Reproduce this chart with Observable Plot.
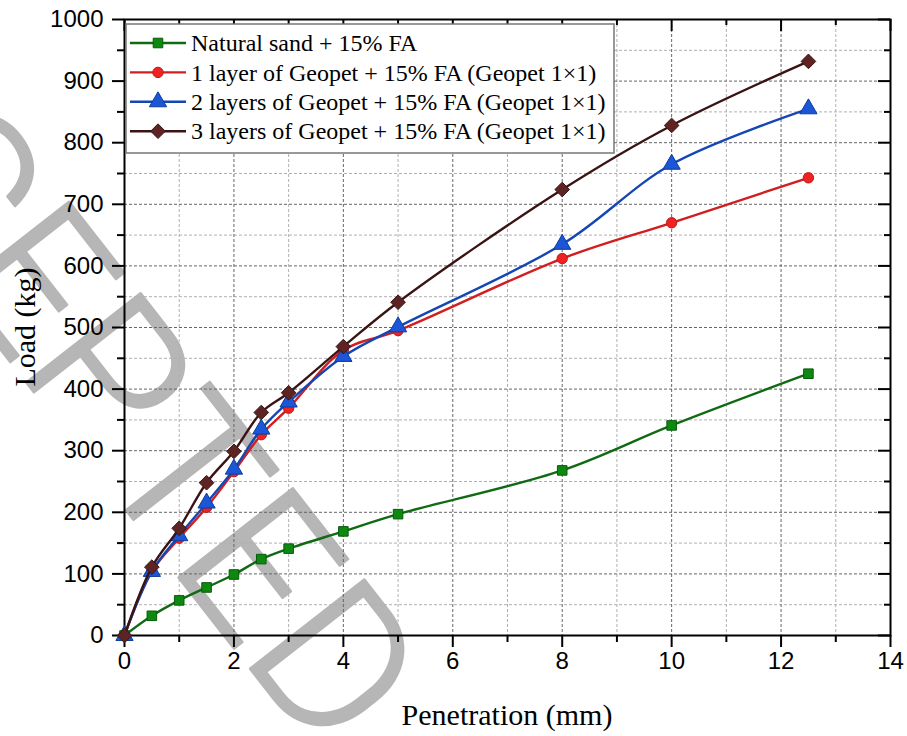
<!DOCTYPE html>
<html>
<head>
<meta charset="utf-8">
<script src="https://cdn.jsdelivr.net/npm/d3@7"></script>
<script src="https://cdn.jsdelivr.net/npm/@observablehq/plot@0.6"></script>
<style>
  html, body { margin: 0; padding: 0; background: #fff; }
  #chart svg { display: block; }
</style>
</head>
<body>
<div id="chart"></div>
<script>
// ---- data ----
const penetration = [0, 0.5, 1, 1.5, 2, 2.5, 3, 4, 5, 8, 10, 12.5];
const naturalSand = [0, 32, 57, 78, 99, 124, 141, 169, 197, 268, 341, 425];
const geopet1Layer = [0, 104, 158, 208, 266, 326, 369, 463, 495, 612, 670, 743];
const geopet2Layers = [0, 104, 162, 215, 270, 335, 379, 453, 501, 635, 765, 855];
const geopet3Layers = [0, 111, 174, 248, 299, 362, 394, 469, 541, 724, 828, 932];
const seriesNames = [
  "Natural sand + 15% FA",
  "1 layer of Geopet + 15% FA (Geopet 1\u00d71)",
  "2 layers of Geopet + 15% FA (Geopet 1\u00d71)",
  "3 layers of Geopet + 15% FA (Geopet 1\u00d71)"
];
const xMajorTicks = [0, 2, 4, 6, 8, 10, 12, 14];
const xMinorTicks = [1, 3, 5, 7, 9, 11, 13];
const yMajorTicks = [0, 100, 200, 300, 400, 500, 600, 700, 800, 900, 1000];
const yMinorTicks = [50, 150, 250, 350, 450, 550, 650, 750, 850, 950];
const xTitle = "Penetration (mm)";
const yTitle = "Load (kg)";
const watermark = "ACCEPTED";

// ---- styling ----
const W = 907, H = 736;
const mL = 124, mR = 17, mT = 19, mB = 101;
const frameW = W - mL - mR, frameH = H - mT - mB;
const styles = [
  {line: "#0f6a12", fill: "#0c8a10", stroke: "#0a5a0c", symbol: "square", r: 5.4},
  {line: "#d21e1e", fill: "#ee2222", stroke: "#c01818", symbol: "circle", r: 5.2},
  {line: "#1446b4", fill: "#1a56d6", stroke: "#0f3c9c", symbol: "triangle", r: 6.4},
  {line: "#3a1414", fill: "#5e2424", stroke: "#3a1414", symbol: "diamond2", r: 6.6}
];
const seriesValues = [naturalSand, geopet1Layer, geopet2Layers, geopet3Layers];
const series = seriesNames.map((name, k) => ({
  name, ...styles[k],
  rows: penetration.map((x, i) => ({x, y: seriesValues[k][i]}))
}));

const tickFont = "'Liberation Sans', Arial, sans-serif";
const serifFont = "'Liberation Serif', 'Times New Roman', serif";
const fmt = d => String(d);

const dataMarks = series.flatMap(s => [
  Plot.line(s.rows, {x: "x", y: "y", stroke: s.line, strokeWidth: 2.4, curve: "catmull-rom"}),
  Plot.dot(s.rows, {x: "x", y: "y", symbol: () => s.symbol, r: s.r, fill: s.fill, stroke: s.stroke, strokeWidth: 1})
]);

const plot = Plot.plot({
  width: W, height: H,
  marginLeft: mL, marginRight: mR, marginTop: mT, marginBottom: mB,
  style: {background: "white", color: "black", overflow: "visible"},
  x: {domain: [0, 14], axis: null},
  y: {domain: [0, 1000], axis: null},
  symbol: {type: "identity"},
  marks: [
    // watermark
    Plot.text([watermark], {
      frameAnchor: "top-left", dx: 248, dy: 700, rotate: 52,
      textAnchor: "end", lineAnchor: "middle",
      fontSize: 204, fontWeight: 300, fontFamily: "Roboto, Lato, 'DejaVu Sans', sans-serif",
      fill: "#b6b6b6", stroke: "#b6b6b6", strokeWidth: 2.5
    }),
    // grid
    Plot.gridX(xMinorTicks, {stroke: "#b0b0b0", strokeOpacity: 1, strokeDasharray: "3,2"}),
    Plot.gridY(yMinorTicks, {stroke: "#b0b0b0", strokeOpacity: 1, strokeDasharray: "3,2"}),
    Plot.gridX(xMajorTicks, {stroke: "#666", strokeOpacity: 1, strokeDasharray: "3,2"}),
    Plot.gridY(yMajorTicks, {stroke: "#666", strokeOpacity: 1, strokeDasharray: "3,2"}),
    // axes (outward ticks on left/bottom)
    Plot.axisX(xMajorTicks, {anchor: "bottom", tickSize: 12, tickPadding: 4, strokeWidth: 2,
      tickFormat: fmt, fontSize: 24, fontFamily: tickFont, label: null, color: "black"}),
    Plot.axisX(xMinorTicks, {anchor: "bottom", tickSize: 7, strokeWidth: 2, tickFormat: () => "", label: null}),
    Plot.axisY(yMajorTicks, {anchor: "left", tickSize: 12, tickPadding: 9, strokeWidth: 2,
      tickFormat: fmt, fontSize: 24, fontFamily: tickFont, label: null, color: "black"}),
    Plot.axisY(yMinorTicks, {anchor: "left", tickSize: 7, strokeWidth: 2, tickFormat: () => "", label: null}),
    // inward mirror ticks on top/right
    Plot.tickX(xMajorTicks, {x: d => d, insetBottom: frameH - 12, stroke: "black", strokeWidth: 2}),
    Plot.tickX(xMinorTicks, {x: d => d, insetBottom: frameH - 6, stroke: "black", strokeWidth: 2}),
    Plot.tickY(yMajorTicks, {y: d => d, insetLeft: frameW - 12, stroke: "black", strokeWidth: 2}),
    Plot.tickY(yMinorTicks, {y: d => d, insetLeft: frameW - 6, stroke: "black", strokeWidth: 2}),
    Plot.frame({stroke: "black", strokeWidth: 2}),
    ...dataMarks
  ]
});

document.getElementById("chart").appendChild(plot);

// ---- axis titles & legend ----
const svg = d3.select(plot);
svg.append("text")
  .attr("x", mL + frameW / 2).attr("y", 725)
  .attr("text-anchor", "middle")
  .attr("font-family", serifFont).attr("font-size", 30).attr("fill", "black")
  .text(xTitle);
svg.append("text")
  .attr("transform", `translate(35, ${mT + frameH / 2}) rotate(-90)`)
  .attr("text-anchor", "middle")
  .attr("font-family", serifFont).attr("font-size", 30).attr("fill", "black")
  .text(yTitle);

const lg = svg.append("g");
lg.append("rect")
  .attr("x", 126).attr("y", 24).attr("width", 488).attr("height", 129)
  .attr("fill", "white").attr("stroke", "#777").attr("stroke-width", 1.5);
const symMap = {square: d3.symbolSquare, circle: d3.symbolCircle, triangle: d3.symbolTriangle, diamond2: d3.symbolDiamond2};
series.forEach((s, k) => {
  const cy = 43 + k * 29.4;
  lg.append("line").attr("x1", 130).attr("x2", 186).attr("y1", cy).attr("y2", cy)
    .attr("stroke", s.line).attr("stroke-width", 2.4);
  lg.append("path")
    .attr("d", d3.symbol(symMap[s.symbol], Math.PI * s.r * s.r)())
    .attr("transform", `translate(158, ${cy})`)
    .attr("fill", s.fill).attr("stroke", s.stroke).attr("stroke-width", 1);
  lg.append("text")
    .attr("x", 191).attr("y", cy).attr("dy", "0.34em")
    .attr("text-anchor", "start")
    .attr("font-family", serifFont).attr("font-size", 24).attr("fill", "black")
    .text(s.name);
});
</script>
</body>
</html>
